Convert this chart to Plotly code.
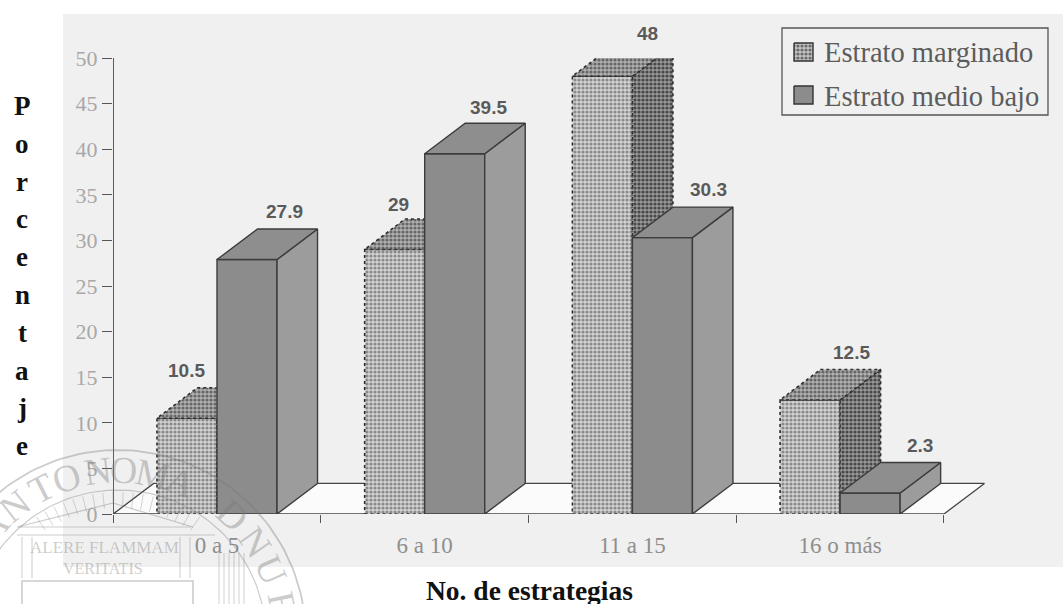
import math
import plotly.graph_objects as go

W, H = 1063, 604

# Chart data
categories = ["0 a 5", "6 a 10", "11 a 15", "16 o más"]
estrato_marginado = [10.5, 29, 48, 12.5]
estrato_medio_bajo = [27.9, 39.5, 30.3, 2.3]
y_ticks = [0, 5, 10, 15, 20, 25, 30, 35, 40, 45, 50]
marginado_labels = ["10.5", "29", "48", "12.5"]
medio_labels = ["27.9", "39.5", "30.3", "2.3"]
y_title = "Porcentaje"
x_title = "No. de estrategias"

# Oblique projection of the bars, in axis units
BAR_W = 0.289
DEPTH_X = 0.195
DEPTH_Y = 3.35
X_RANGE = [(113 - 217) / 207.7, (985 - 217) / 207.7]

MARG_OUT = dict(color="#2e2e2e", width=1.6, dash="dot")
MEDIO_OUT = dict(color="#3c3c3c", width=1.4)


def pat(fg, bg, size=4, solidity=0.5):
    return dict(shape=".", size=size, solidity=solidity, fgcolor=fg, bgcolor=bg, fillmode="replace")


MARG_FACES = dict(
    front=pat("#8a8a8a", "#d4d4d4"),
    top=pat("#666666", "#b0b0b0"),
    side=pat("#484848", "#989898"),
)
MEDIO_FACES = dict(front="#8c8c8c", top="#8e8e8e", side="#9c9c9c")

fig = go.Figure()


def polygon(xs, ys, line, face, name):
    kw = dict(fillcolor=face) if isinstance(face, str) else dict(fillpattern=face, fillcolor=face["bgcolor"])
    fig.add_trace(go.Scatter(
        x=xs + xs[:1], y=ys + ys[:1], mode="lines", fill="toself", line=line,
        name=name, showlegend=False, cliponaxis=False, hoverinfo="skip", **kw,
    ))


def box(x0, h, faces, line, name):
    x1 = x0 + BAR_W
    polygon([x0, x1, x1, x0], [0, 0, h, h], line, faces["front"], name)
    polygon([x1, x1 + DEPTH_X, x1 + DEPTH_X, x1], [0, DEPTH_Y, h + DEPTH_Y, h], line, faces["side"], name)
    polygon([x0, x1, x1 + DEPTH_X, x0 + DEPTH_X], [h, h, h + DEPTH_Y, h + DEPTH_Y], line, faces["top"], name)


# Floor of the chart
left, right = -0.5, len(categories) - 0.5
polygon([left, right, right + DEPTH_X, left + DEPTH_X], [0, 0, DEPTH_Y, DEPTH_Y],
        dict(color="#444444", width=1.3), "#fbfbfb", "piso")

# Bars, back to front inside each group
for i in range(len(categories)):
    box(i - BAR_W, estrato_marginado[i], MARG_FACES, MARG_OUT, "Estrato marginado")
    box(i, estrato_medio_bajo[i], MEDIO_FACES, MEDIO_OUT, "Estrato medio bajo")

# Vertical axis line, running slightly below zero
fig.add_trace(go.Scatter(x=[left, left], y=[-1, 50], mode="lines", cliponaxis=False,
                         line=dict(color="#555555", width=1.6), showlegend=False, hoverinfo="skip"))


def overlay_polygon(xs, ys, line, face, name):
    kw = dict(fillcolor=face) if isinstance(face, str) else dict(fillpattern=face, fillcolor=face["bgcolor"])
    fig.add_trace(go.Scatter(x=xs + xs[:1], y=ys + ys[:1], xaxis="x2", yaxis="y2", mode="lines", fill="toself",
                             line=line, name=name, showlegend=False, hoverinfo="skip", **kw))


# Key swatches, on a helper subplot measured in page pixels
overlay_polygon([794, 813, 813, 794], [43, 43, 61, 61], dict(color="#333333", width=1.4), pat("#6a6a6a", "#c4c4c4"), "Estrato marginado")
overlay_polygon([794, 813, 813, 794], [86, 86, 104, 104], dict(color="#333333", width=1.4), "#8c8c8c", "Estrato medio bajo")


def px_x(v):
    return v / W


def px_y(v):
    return 1 - v / H


shapes = [
    dict(type="rect", xref="paper", yref="paper", x0=px_x(63), x1=1, y0=px_y(14), y1=px_y(567),
         fillcolor="#f0f0f0", line_width=0, layer="below"),
    dict(type="rect", xref="paper", yref="paper", x0=px_x(782), x1=px_x(1048), y0=px_y(28), y1=px_y(115),
         line=dict(color="#555555", width=1.3), layer="above"),
]

annotations = []


def text(x, y, s, size, color, family="Liberation Serif", bold=False, angle=0, xanchor="center"):
    annotations.append(dict(
        x=x / W, y=1 - y / H, xref="paper", yref="paper", text=f"<b>{s}</b>" if bold else s,
        showarrow=False, textangle=angle, xanchor=xanchor, yanchor="middle",
        font=dict(family=family, size=size, color=color),
    ))


text(822, 53, "Estrato marginado", 28.5, "#5c5c5c", xanchor="left")
text(822, 96, "Estrato medio bajo", 28.5, "#5c5c5c", xanchor="left")

# Value labels above each bar, nudged by (x, y) pixels from the bar centre
marginado_nudge = [(0, 48), (4, 45), (45, 43), (41, 48)]
medio_nudge = [(37, 48), (34, 46), (46, 48), (50, 48)]
for i in range(len(categories)):
    for vals, labs, nudge, off in ((estrato_marginado, marginado_labels, marginado_nudge, -BAR_W / 2),
                                   (estrato_medio_bajo, medio_labels, medio_nudge, BAR_W / 2)):
        annotations.append(dict(
            x=i + off, y=vals[i], xref="x", yref="y", text=f"<b>{labs[i]}</b>", showarrow=False,
            xshift=nudge[i][0], yshift=nudge[i][1],
            font=dict(family="Liberation Sans", size=19, color="#5a5a5a"),
        ))

# Axis titles
for k, ch in enumerate(y_title):
    text(22, 106 + k * 37.8, ch, 27, "#111111", bold=True)
text(529, 590, x_title, 27.5, "#111111", bold=True)

# Seal printed across the lower left corner
SEAL = "rgba(120,120,120,0.38)"
SEAL_C = (118, 638)


def seal_line(xs, ys, width=1.2):
    fig.add_trace(go.Scatter(x=xs, y=ys, xaxis="x2", yaxis="y2", mode="lines", showlegend=False,
                             hoverinfo="skip", line=dict(color=SEAL, width=width)))


def arc(radius, a0=-90, a1=90, n=90):
    angs = [math.radians(a0 + (a1 - a0) * t / n) for t in range(n + 1)]
    return ([SEAL_C[0] + radius * math.sin(a) for a in angs], [SEAL_C[1] - radius * math.cos(a) for a in angs])


seal_line(*arc(188), width=1.8)
seal_line(*arc(148), width=1.2)
seal_letters = [("A", -48), ("N", -38), ("T", -27), ("O", -18), ("N", -7), ("O", 2), ("M", 12), ("A", 22),
                ("D", 43), ("N", 55), ("U", 66), ("E", 78)]
for ch, ang in seal_letters:
    a = math.radians(ang)
    text(SEAL_C[0] + 168 * math.sin(a), SEAL_C[1] - 168 * math.cos(a), ch, 38, SEAL, angle=ang)
text(104, 547, "ALERE FLAMMAM", 17, SEAL)
text(103, 568, "VERITATIS", 16, SEAL)
seal_line([17, 113, 193, 17], [527, 503, 527, 527])
seal_line([17, 215], [535, 535])
seal_line([22, 22, 193, 193], [604, 581, 581, 604], width=1.6)
for cx in (22, 32, 180, 190):
    seal_line([cx, cx], [537, 578], width=1)
for cx in range(219, 248, 5):
    seal_line([cx, cx], [553, 604], width=0.9)
for a_deg in range(-34, 36, 4):
    a = math.radians(a_deg)
    seal_line([SEAL_C[0] + 130 * math.sin(a), SEAL_C[0] + 146 * math.sin(a)],
              [SEAL_C[1] - 130 * math.cos(a), SEAL_C[1] - 146 * math.cos(a)], width=0.8)

fig.update_layout(
    width=W, height=H, margin=dict(l=0, r=0, t=0, b=0, autoexpand=False), autosize=False,
    paper_bgcolor="white", plot_bgcolor="rgba(0,0,0,0)", showlegend=False,
    shapes=shapes, annotations=annotations,
    xaxis=dict(
        domain=[113 / W, 985 / W], range=X_RANGE, showgrid=False, zeroline=False, showline=False,
        tickmode="array", tickvals=list(range(len(categories))), ticktext=categories,
        ticks="outside", ticklen=10, tickcolor="rgba(0,0,0,0)", tickwidth=1,
        tickfont=dict(family="Liberation Serif", size=23, color="#8e8e8e"),
        minor=dict(tickmode="array", tickvals=[-0.5, 0.5, 1.5, 2.5, 3.5], ticks="outside", ticklen=8,
                   tickcolor="#555555", tickwidth=1.3),
    ),
    yaxis=dict(
        domain=[(H - 514) / H, (H - 58) / H], range=[0, 50], showgrid=False, zeroline=False, showline=False,
        tickmode="array", tickvals=y_ticks, ticks="outside", ticklen=10, tickcolor="#555555", tickwidth=1.3,
        tickfont=dict(family="Liberation Serif", size=22, color="#a8a8a8"),
    ),
    xaxis2=dict(domain=[0, 1], range=[0, W], visible=False, fixedrange=True, anchor="y2"),
    yaxis2=dict(domain=[0, 1], range=[H, 0], visible=False, fixedrange=True, anchor="x2"),
)

fig.write_html("out.html")
